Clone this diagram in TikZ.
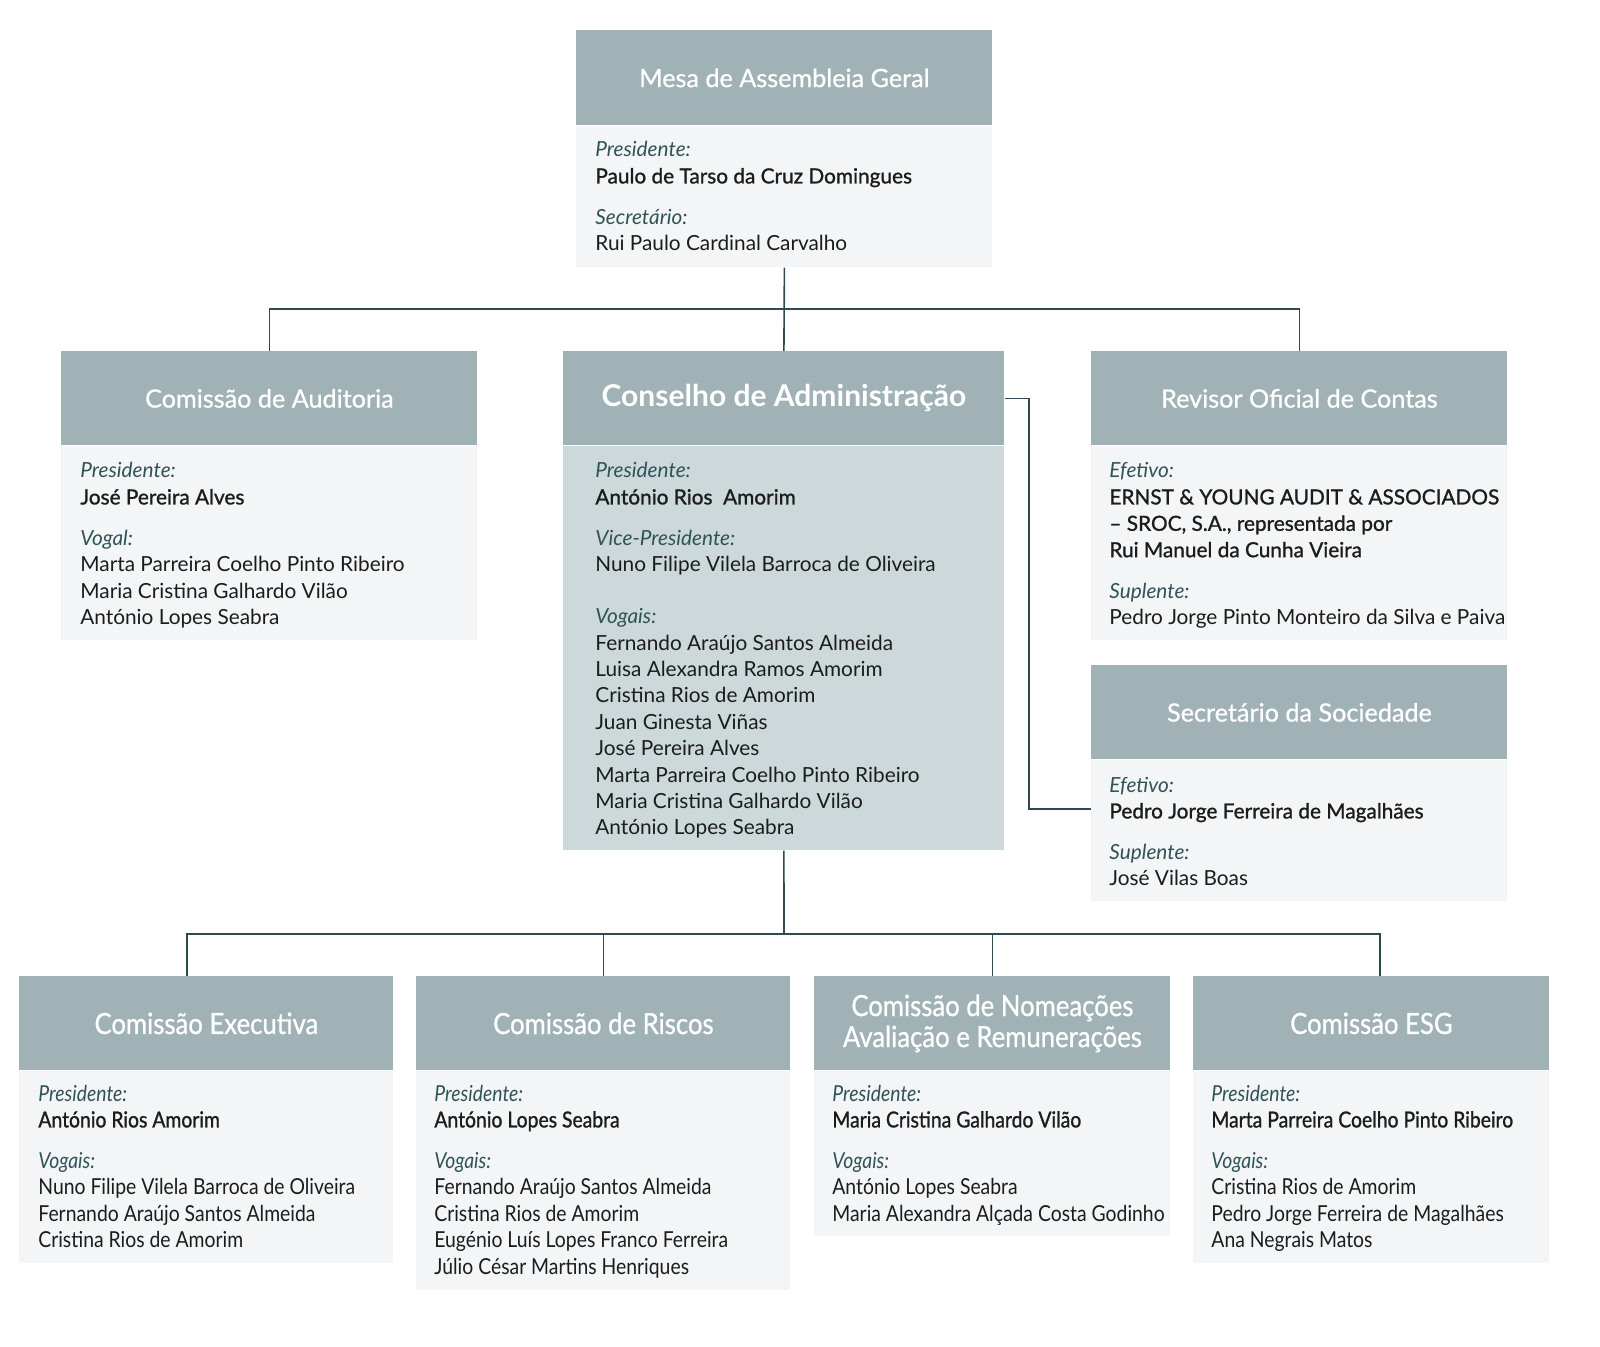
\documentclass[tikz,border=0pt]{standalone}
\usepackage{fontspec}
\setmainfont{Lato}
\newfontfamily\condfont{Lato}[FakeStretch=0.88]
\newfontfamily\hdrfont{Lato}[FakeBold=0.8]
\newfontfamily\hdrcondfont{Lato}[FakeStretch=0.88,FakeBold=0.8]
\newfontfamily\medfont{Lato}[FakeBold=1.1]
\newfontfamily\medcondfont{Lato}[FakeStretch=0.88,FakeBold=1.1]
\definecolor{hdrc}{HTML}{A0B2B6}
\definecolor{bodyc}{HTML}{F3F5F6}
\definecolor{bodyd}{HTML}{CCD8DA}
\definecolor{linec}{HTML}{2D4B50}
\definecolor{lblc}{HTML}{2F5357}
\definecolor{namec}{HTML}{1C1C1C}
\newcommand\lbl[1]{{\itshape\color{lblc}#1}}
\newcommand\nm[1]{{\medfont #1}}
\newcommand\nmc[1]{{\medcondfont #1}}
\tikzset{
  hdr/.style={fill=hdrc, anchor=north west, inner sep=0pt, text=white, align=center, font=\hdrfont\fontsize{12.6}{15.5}\selectfont},
  hdrb/.style={hdr, font=\hdrcondfont\fontsize{14.6}{15.5}\selectfont},
  bodybox/.style={fill=bodyc, anchor=north west, inner sep=0pt},
  txt/.style={anchor=base west, inner sep=0pt, text=namec, font=\fontsize{10.4}{13.2}\selectfont},
  txtb/.style={txt, font=\condfont\fontsize{11}{13.2}\selectfont},
  conn/.style={draw=linec, line width=0.8pt}
}
\newcommand\blines[1]{\parbox[t]{205pt}{\raggedright\baselineskip=13.2pt\leavevmode #1}}
\begin{document}
\begin{tikzpicture}[x=0.5pt,y=-0.5pt]
\useasboundingbox (0,0) rectangle (1600,1347);
% Mesa
\node[hdr, minimum width=208pt, minimum height=47.5pt] (mesa) at (576,30) {Mesa de Assembleia Geral};
\node[bodybox, minimum width=208pt, minimum height=70.5pt] (mesab) at (mesa.south west) {};
\node[txt] (mesat) at (595,157) {\blines{\lbl{Presidente:}\\ \nm{Paulo de Tarso da Cruz Domingues}\\[7.3pt] \lbl{Secretário:}\\ Rui Paulo Cardinal Carvalho}};
% Auditoria
\node[hdr, minimum width=208pt, minimum height=47pt] (aud) at (61,351) {Comissão de Auditoria};
\node[bodybox, minimum width=208pt, minimum height=97pt] (audb) at (aud.south west) {};
\node[txt] (audt) at (80,478) {\blines{\lbl{Presidente:}\\ \nm{José Pereira Alves}\\[7.3pt] \lbl{Vogal:}\\ Marta Parreira Coelho Pinto Ribeiro\\ Maria Cristina Galhardo Vilão\\ António Lopes Seabra}};
% Conselho
\node[hdr, minimum width=220.5pt, minimum height=47pt, font=\bfseries\fontsize{15}{17}\selectfont] (cons) at (563,351) {Conselho de Administração};
\node[bodybox, fill=bodyd, minimum width=220.5pt, minimum height=202pt] (consb) at (cons.south west) {};
\node[txt] (const) at (595,478) {\blines{\lbl{Presidente:}\\ \nm{António Rios\ \ Amorim}\\[7.3pt] \lbl{Vice-Presidente:}\\ Nuno Filipe Vilela Barroca de Oliveira\\[12.8pt] \lbl{Vogais:}\\ Fernando Araújo Santos Almeida\\ Luisa Alexandra Ramos Amorim\\ Cristina Rios de Amorim\\ Juan Ginesta Viñas\\ José Pereira Alves\\ Marta Parreira Coelho Pinto Ribeiro\\ Maria Cristina Galhardo Vilão\\ António Lopes Seabra}};
% Revisor
\node[hdr, minimum width=208pt, minimum height=47pt] (rev) at (1091,351) {Revisor Oficial de Contas};
\node[bodybox, minimum width=208pt, minimum height=97pt] (revb) at (rev.south west) {};
\node[txt] (revt) at (1109,478) {\blines{\lbl{Efetivo:}\\ \nm{ERNST \& YOUNG AUDIT \& ASSOCIADOS}\\ \nm{– SROC, S.A., representada por}\\ \nm{Rui Manuel da Cunha Vieira}\\[7.3pt] \lbl{Suplente:}\\ Pedro Jorge Pinto Monteiro da Silva e Paiva}};
% Secretario
\node[hdr, minimum width=208pt, minimum height=47pt] (sec) at (1091,665) {Secretário da Sociedade};
\node[bodybox, minimum width=208pt, minimum height=70.5pt] (secb) at (sec.south west) {};
\node[txt] (sect) at (1109,792) {\blines{\lbl{Efetivo:}\\ \nm{Pedro Jorge Ferreira de Magalhães}\\[7.3pt] \lbl{Suplente:}\\ José Vilas Boas}};
% Bottom row
\node[hdrb, minimum width=187pt, minimum height=47pt] (exe) at (19,976) {Comissão Executiva};
\node[bodybox, minimum width=187pt, minimum height=96pt] (exeb) at (exe.south west) {};
\node[txtb] (exet) at (38,1101) {\blines{\lbl{Presidente:}\\ \nmc{António Rios Amorim}\\[7.3pt] \lbl{Vogais:}\\ Nuno Filipe Vilela Barroca de Oliveira\\ Fernando Araújo Santos Almeida\\ Cristina Rios de Amorim}};
\node[hdrb, minimum width=187pt, minimum height=47pt] (ris) at (416,976) {Comissão de Riscos};
\node[bodybox, minimum width=187pt, minimum height=109.5pt] (risb) at (ris.south west) {};
\node[txtb] (rist) at (434,1101) {\blines{\lbl{Presidente:}\\ \nmc{António Lopes Seabra}\\[7.3pt] \lbl{Vogais:}\\ Fernando Araújo Santos Almeida\\ Cristina Rios de Amorim\\ Eugénio Luís Lopes Franco Ferreira\\ Júlio César Martins Henriques}};
\node[hdrb, minimum width=178pt, minimum height=47pt] (nom) at (814,976) {Comissão de Nomeações\\ Avaliação e Remunerações};
\node[bodybox, minimum width=178pt, minimum height=82.5pt] (nomb) at (nom.south west) {};
\node[txtb] (nomt) at (832,1101) {\blines{\lbl{Presidente:}\\ \nmc{Maria Cristina Galhardo Vilão}\\[7.3pt] \lbl{Vogais:}\\ António Lopes Seabra\\ Maria Alexandra Alçada Costa Godinho}};
\node[hdrb, minimum width=178pt, minimum height=47pt] (esg) at (1193,976) {Comissão ESG};
\node[bodybox, minimum width=178pt, minimum height=96pt] (esgb) at (esg.south west) {};
\node[txtb] (esgt) at (1211,1101) {\blines{\lbl{Presidente:}\\ \nmc{Marta Parreira Coelho Pinto Ribeiro}\\[7.3pt] \lbl{Vogais:}\\ Cristina Rios de Amorim\\ Pedro Jorge Ferreira de Magalhães\\ Ana Negrais Matos}};
% connectors top
\coordinate (j1) at (784,309);
\draw[conn] (mesab.south) -- (cons.north);
\draw[conn] (aud.north) |- (j1) -| (rev.north);
% conselho to secretario
\coordinate (sj) at (1029,809);
\draw[conn] (cons.east) -| (sj) -- (sj -| secb.west);
% bottom
\coordinate (j2) at (784,934);
\coordinate (dexe) at (187,976);
\coordinate (desg) at (1380,976);
\draw[conn] (consb.south) -- (j2);
\draw[conn] (dexe) |- (j2) -| (desg);
\draw[conn] (ris.north) -- (ris.north |- j2);
\draw[conn] (nom.north) -- (nom.north |- j2);
\end{tikzpicture}
\end{document}
